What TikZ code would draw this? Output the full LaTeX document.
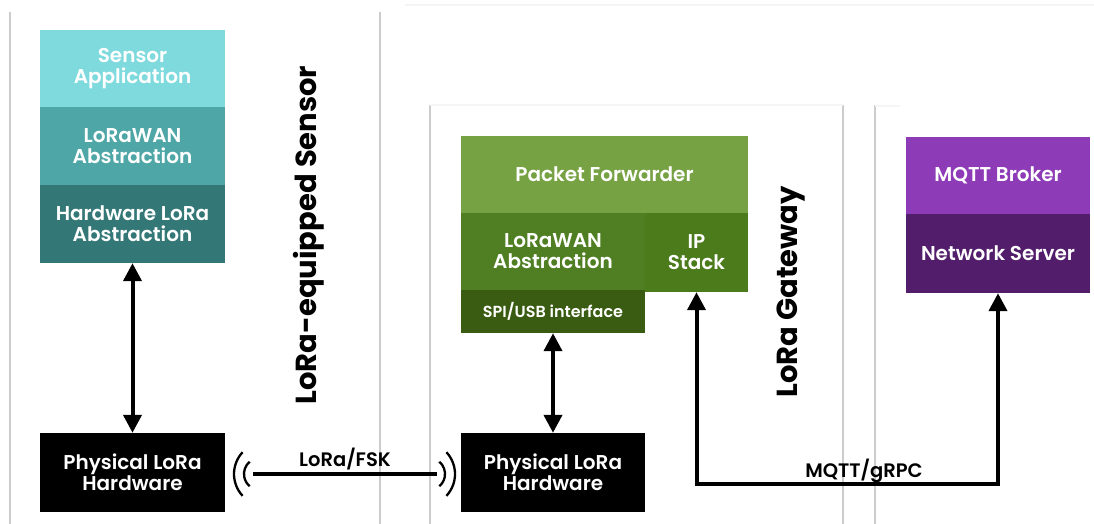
\documentclass[tikz,border=0pt]{standalone}
\usepackage{fontspec}
\setmainfont{Poppins}[BoldFont={Poppins SemiBold}]
\usetikzlibrary{arrows.meta}
\definecolor{sensA}{HTML}{7FDADD}
\definecolor{sensB}{HTML}{4FA6A6}
\definecolor{sensC}{HTML}{347777}
\definecolor{gwA}{HTML}{77A244}
\definecolor{gwB}{HTML}{4F7F22}
\definecolor{gwC}{HTML}{4B7B1B}
\definecolor{gwD}{HTML}{3A5C12}
\definecolor{srvA}{HTML}{8E3BB7}
\definecolor{srvB}{HTML}{521E6C}
\definecolor{sepline}{HTML}{CCCCCC}
\newfontfamily\heavyfont{Poppins Bold}
\begin{document}
\begin{tikzpicture}[x=1pt,y=-1pt,
  layer/.style={rectangle, inner sep=0pt, text=white, align=center,
    font=\fontsize{20}{21}\selectfont\bfseries},
  hwbox/.style={layer, fill=black},
  sep/.style={draw=sepline, line width=1.4pt},
  faint/.style={draw=sepline!20, line width=1.2pt},
  link/.style={line width=4pt, {Triangle[length=18pt,width=18pt]}-{Triangle[length=18pt,width=18pt]}},
  wave/.style={line width=2.3pt},
  title/.style={rotate=90, font=\fontsize{29}{30}\selectfont\heavyfont},
  linklabel/.style={font=\fontsize{19.5}{20}\selectfont\bfseries}]
\useasboundingbox (0,0) rectangle (1094,524);

% separators between the three parts
\draw[sep] (10,12) -- (10,524);
\draw[sep] (380,12) -- (380,524);
\draw[sep] (430,105) -- (430,524);
\draw[sep] (843,105) -- (843,524);
\draw[sep] (875,105) -- (875,524);
\draw[faint] (405,5) -- (1094,5);
\draw[faint] (430,105) -- (843,105);
\draw[faint] (875,106) -- (900,106);

% sensor stack
\node[layer, fill=sensA, minimum width=185, minimum height=77] (app) at (132.5,68.5) {Sensor\\Application};
\node[layer, fill=sensB, minimum width=185, minimum height=78] (lws) at (132.5,146) {LoRaWAN\\Abstraction};
\node[layer, fill=sensC, minimum width=185, minimum height=78] (hwa) at (132.5,224) {Hardware LoRa\\Abstraction};
\node[hwbox, minimum width=185, minimum height=79] (phys1) at (132.5,472.5) {Physical LoRa\\Hardware};

% gateway stack
\node[layer, fill=gwA, minimum width=287, minimum height=77] (pf) at (604.5,174.5) {Packet Forwarder};
\node[layer, fill=gwB, minimum width=184, minimum height=77] (lwg) at (553,251.5) {LoRaWAN\\Abstraction};
\node[layer, fill=gwC, minimum width=103, minimum height=79] (ip) at (696.5,252.5) {IP\\Stack};
\node[layer, fill=gwD, minimum width=184, minimum height=43, font=\fontsize{16}{17}\selectfont\bfseries] (spi) at (553,311.5) {SPI/USB interface};
\node[hwbox, minimum width=184, minimum height=79] (phys2) at (553,472.5) {Physical LoRa\\Hardware};

% server stack
\node[layer, fill=srvA, minimum width=184, minimum height=77] (mqtt) at (998,175.5) {MQTT Broker};
\node[layer, fill=srvB, minimum width=184, minimum height=79] (ns) at (998,253.5) {Network Server};

% part titles
\node[title] (tsens) at (309,235) {LoRa-equipped Sensor};
\node[title] (tgw) at (791,292) {LoRa Gateway};

% internal links
\draw[link] (hwa.south) -- (hwa.south |- phys1.north);
\draw[link] (spi.south) -- (spi.south |- phys2.north);

% backhaul link from the IP stack to the network server
\coordinate (bend1) at (ip.south |- 0,484);
\coordinate (bend2) at (ns.south |- 0,484);
\draw[link, line join=miter] (ip.south) -- (bend1) -- (bend2) -- (ns.south);
\node[linklabel, anchor=base] (mqlbl) at (864,477) {MQTT/gRPC};

% radio link between the two transceivers
\coordinate (radioL) at (253,474);
\coordinate (radioR) at (437,474);
\draw[line width=4pt] (radioL) -- (radioR);
\node[linklabel, anchor=base] (radiolbl) at (345,466) {LoRa/FSK};
\draw[wave] (radioL) ++(-3.3,-12.3) arc[start angle=230, end angle=130, radius=16];
\draw[wave] (radioL) ++(-10.4,-21.8) arc[start angle=223, end angle=137, radius=32];
\draw[wave] (radioR) ++(2.3,-12.3) arc[start angle=-50, end angle=50, radius=16];
\draw[wave] (radioR) ++(9.4,-21.8) arc[start angle=-43, end angle=43, radius=32];
\end{tikzpicture}
\end{document}
